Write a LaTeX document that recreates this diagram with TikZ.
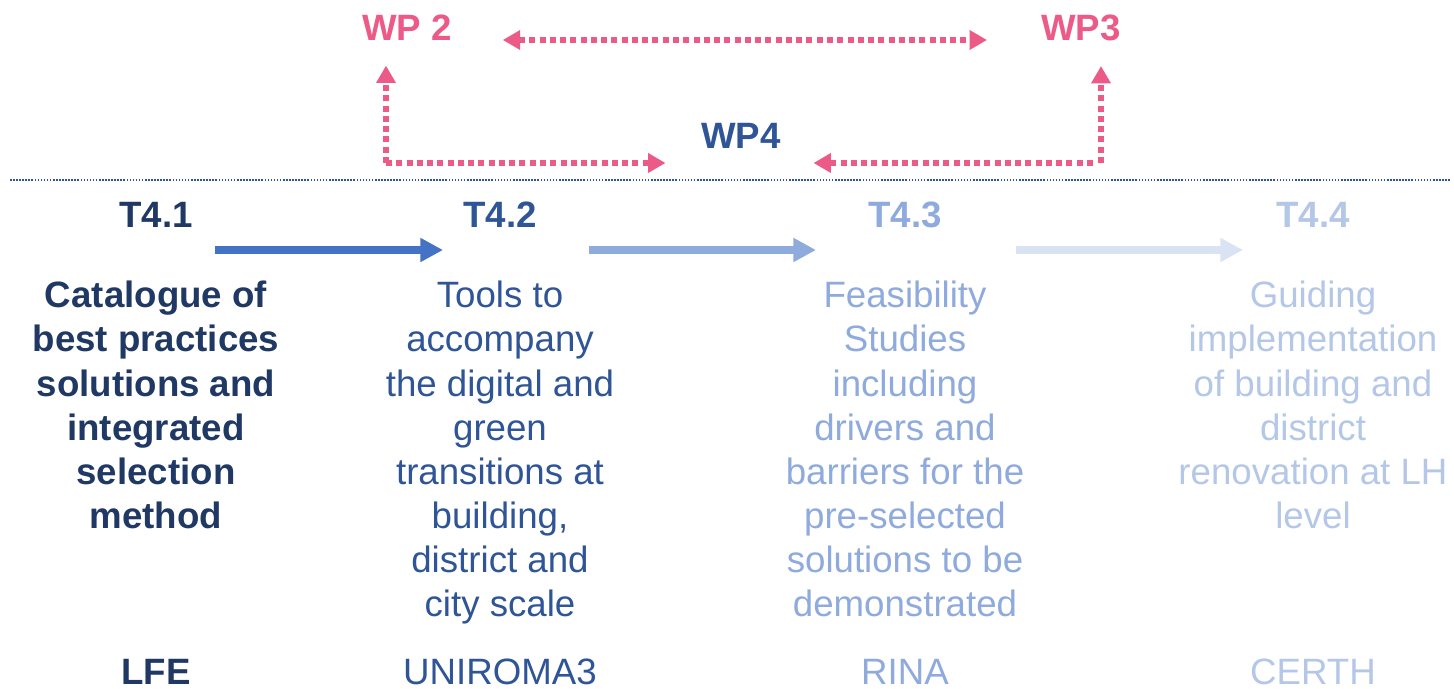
\documentclass[tikz,border=0pt]{standalone}
\usepackage{fontspec}
\setmainfont{Liberation Sans}
\usetikzlibrary{arrows.meta}

\definecolor{navy}{HTML}{203864}
\definecolor{wpblue}{HTML}{2F5597}
\definecolor{lightblue}{HTML}{8FAADC}
\definecolor{paleblue}{HTML}{B4C7E7}
\definecolor{arrowA}{HTML}{4472C4}
\definecolor{arrowB}{HTML}{8FAADC}
\definecolor{arrowC}{HTML}{DAE3F3}
\definecolor{wppink}{HTML}{EC5A88}

\tikzstyle{txt} = [inner sep=0pt, anchor=base, font=\fontsize{27.5}{33.1}\selectfont]
\tikzstyle{task} = [txt, font=\fontsize{27.5}{33.1}\selectfont\bfseries]
\tikzstyle{desc} = [txt, align=center, anchor=north]
\tikzstyle{wplink} = [draw=wppink, line width=4pt, dash pattern=on 4.5pt off 3.2pt, >={Triangle[length=13pt,width=14pt]}, ->]
\tikzstyle{flow} = [line width=6pt, -{Triangle[length=17pt,width=17pt]}]
\tikzstyle{sep} = [draw=wpblue, line width=1.5pt, dash pattern=on 1.2pt off 1.1pt]

\begin{document}
\begin{tikzpicture}[x=0.75pt,y=-0.75pt]
\useasboundingbox (0,0) rectangle (1454,689);

%work packages
\node[task, wppink] (wp2) at (407,40) {WP 2};%
\node[task, wppink] (wp3) at (1081,40) {WP3};%
\node[task, wpblue] (wp4) at (741,148) {WP4};%

\coordinate (k2) at (386,163);% corner left
\coordinate (k3) at (1101,163);% corner right

\draw[wplink, <->, shorten <=38pt, shorten >=40.5pt] (wp2.base east) -- (wp3.base west);
\draw[wplink, shorten >=19pt] (k2) -- (k2 |- wp2.south);
\draw[wplink, shorten >=26.6pt] (k2) -- (k2 -| wp4.west);
\draw[wplink, shorten >=19pt] (k3) -- (k3 |- wp3.south);
\draw[wplink, shorten <=6pt, shorten >=24.4pt] (k3) -- (k3 -| wp4.east);

%lines
\draw[sep] (10,180) -- (1450,180);

%tasks
\node[task, navy] (t41) at (156,227) {T4.1};%
\node[task, wpblue] (t42) at (500,227) {T4.2};%
\node[task, lightblue] (t43) at (905,227) {T4.3};%
\node[task, paleblue] (t44) at (1313,227) {T4.4};%

\draw[flow, arrowA] ([shift={(22,23)}]t41.base east) -- ([shift={(-20,23)}]t42.base west);% a
\draw[flow, arrowB] ([shift={(52,23)}]t42.base east) -- ([shift={(-52,23)}]t43.base west);% b
\draw[flow, arrowC] ([shift={(74,23)}]t43.base east) -- ([shift={(-33,23)}]t44.base west);% c

%descriptions
\node[desc, navy, font=\fontsize{27.5}{33.1}\selectfont\bfseries] (d41) at (156,281)
  {Catalogue of\\best practices\\solutions and\\integrated\\selection\\method};%
\node[desc, wpblue] (d42) at (500,281)
  {Tools to\\accompany\\the digital and\\green\\transitions at\\building,\\district and\\city scale};%
\node[desc, lightblue] (d43) at (905,281)
  {Feasibility\\Studies\\including\\drivers and\\barriers for the\\pre-selected\\solutions to be\\demonstrated};%
\node[desc, paleblue] (d44) at (1313,281)
  {Guiding\\implementation\\of building and\\district\\renovation at LH\\level};%

%partners
\node[task, navy] (p41) at (156,684) {LFE};%
\node[txt, wpblue] (p42) at (500,684) {UNIROMA3};%
\node[txt, lightblue] (p43) at (905,684) {RINA};%
\node[txt, paleblue] (p44) at (1313,684) {CERTH};%
\end{tikzpicture}
\end{document}
